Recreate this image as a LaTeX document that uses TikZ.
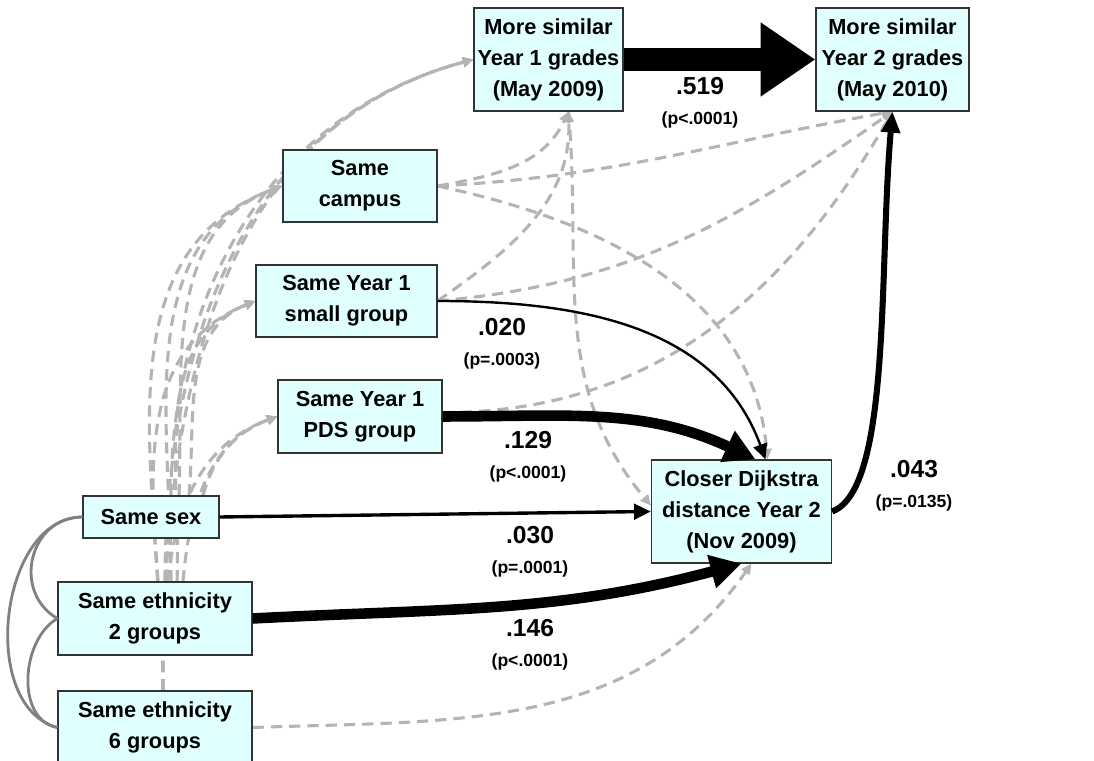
\documentclass[tikz,border=0pt]{standalone}
\usepackage{fontspec}
\setmainfont{Liberation Sans}
\usetikzlibrary{arrows.meta,backgrounds}

\definecolor{boxfill}{RGB}{224,255,255}
\definecolor{nsgray}{RGB}{180,180,180}
\definecolor{corrgray}{RGB}{128,128,128}
\newcommand{\pv}{\fontsize{12.5}{15}\selectfont}

\tikzset{
  var/.style={draw=black!80, line width=0.8pt, fill=boxfill, align=center,
    inner sep=2pt, font=\fontsize{15.5}{22}\selectfont\bfseries},
  coef/.style={align=center, font=\fontsize{17.5}{21}\selectfont\bfseries},
  mainpath/.style={line width=17pt, -{Triangle[length=39pt,width=50pt]}},
  strongpath/.style={line width=7.5pt, -{Triangle[length=22pt,width=23pt]}},
  midpath/.style={line width=4.3pt, -{Triangle[length=15pt,width=13pt]}},
  weakpath/.style={line width=2.4pt, -{Triangle[length=12pt,width=11pt]}},
  thinpath/.style={line width=1.7pt, -{Triangle[length=11pt,width=10pt]}},
  nspath/.style={draw=nsgray, line width=2.2pt, dash pattern=on 8pt off 5pt,
    -{Triangle[length=7.5pt,width=7pt]}},
  corr/.style={draw=corrgray, line width=2pt}
}

\begin{document}
\begin{tikzpicture}[x=0.025cm, y=0.025cm]
  \useasboundingbox (0,0) rectangle (1094,761);

  % outcomes
  \node[var, minimum width=3.725cm, minimum height=2.575cm] (y1) at (548.5,701.5) {More similar\\Year 1 grades\\(May 2009)};
  \node[var, minimum width=3.825cm, minimum height=2.575cm] (y2) at (892.5,701.5) {More similar\\Year 2 grades\\(May 2010)};
  \node[var, minimum width=4.5cm, minimum height=2.575cm] (dij) at (741.5,249.5) {Closer Dijkstra\\distance Year 2\\(Nov 2009)};

  % shared contexts
  \node[var, minimum width=3.85cm, minimum height=1.8cm] (campus) at (360,575) {Same\\campus};
  \node[var, minimum width=4.525cm, minimum height=1.8cm] (small) at (346.5,460) {Same Year 1\\small group};
  \node[var, minimum width=4.1cm, minimum height=1.825cm] (pds) at (360,344.5) {Same Year 1\\PDS group};

  % demographics
  \node[var, minimum width=3.4cm, minimum height=1.05cm] (sex) at (151,244) {Same sex};
  \node[var, minimum width=4.85cm, minimum height=1.825cm] (eth2) at (155,142.5) {Same ethnicity\\2 groups};
  \node[var, minimum width=4.85cm, minimum height=1.825cm] (eth6) at (155,33.5) {Same ethnicity\\6 groups};

  % non-significant paths
  \begin{scope}[on background layer]
    \path ([xshift=0.5cm]sex.north) edge[nspath, out=90, in=195] (y1.west)
          ([xshift=0.7cm]sex.north) edge[nspath, out=88, in=200] (campus.west)
          ([xshift=0.95cm]sex.north) edge[nspath, out=85, in=202] (small.west)
          ([xshift=1.3cm]sex.north) edge[nspath, out=75, in=200] (pds.west);
    \path ([xshift=0.25cm]eth2.north) edge[nspath, out=90, in=195] (y1.west)
          ([xshift=0.4cm]eth2.north) edge[nspath, out=90, in=200] (campus.west)
          ([xshift=0.55cm]eth2.north) edge[nspath, out=88, in=202] (small.west)
          ([xshift=0.7cm]eth2.north) edge[nspath, out=85, in=200] (pds.west);
    \path ([xshift=0.2cm]eth6.north) edge[nspath, out=90, in=195] (y1.west)
          ([xshift=0.2cm]eth6.north) edge[nspath, out=90, in=200] (campus.west)
          ([xshift=0.2cm]eth6.north) edge[nspath, out=90, in=202] (small.west)
          ([xshift=0.2cm]eth6.north) edge[nspath, out=90, in=200] (pds.west);

    \path (campus.east) edge[nspath, out=10, in=-115] ([xshift=0.5cm]y1.south);
    \path (small.east) edge[nspath, out=35, in=-88] ([xshift=0.5cm]y1.south);
    \path ([xshift=0.5cm]y1.south) edge[nspath, out=-85, in=130] ([yshift=0.15cm]dij.west);
    \path (campus.east) edge[nspath, out=-12, in=95] ([xshift=0.65cm]dij.north);
    \path (campus.east) edge[nspath, out=3, in=190] (y2.south);
    \path (small.east) edge[nspath, out=5, in=215] (y2.south);
    \path ([yshift=0.1cm]pds.east) edge[nspath, out=0, in=240] (y2.south);
    \path (eth6.east) edge[nspath, out=2, in=-125] ([xshift=0.25cm]dij.south);
  \end{scope}

  % correlations
  \path (sex.west) edge[corr, out=180, in=150, looseness=1.3] (eth2.west);
  \path (eth2.west) edge[corr, out=210, in=170] (eth6.west);
  \path (sex.west) edge[corr, out=180, in=165] (eth6.west);

  % significant paths
  \path (y1) edge[mainpath] (y2);
  \path (small.east) edge[thinpath, out=0, in=110] ([xshift=0.6cm]dij.north);
  \path (pds.east) edge[strongpath, out=0, in=155] ([xshift=0.35cm]dij.north);
  \path (sex.east) edge[weakpath] (dij.west);
  \path (eth2.east) edge[strongpath, out=3, in=195] (dij.south);
  \path (dij.east) edge[midpath, out=20, in=-95, out looseness=0.4] (y2.south);

  % estimates
  \node[coef] (c519) at (700,658) {.519\\\pv (p<.0001)};
  \node[coef] (c020) at (502,417) {.020\\\pv (p=.0003)};
  \node[coef] (c129) at (528,304) {.129\\\pv (p<.0001)};
  \node[coef] (c030) at (530,209) {.030\\\pv (p=.0001)};
  \node[coef] (c146) at (530,116) {.146\\\pv (p<.0001)};
  \node[coef] (c043) at (914,275) {.043\\\pv (p=.0135)};
\end{tikzpicture}
\end{document}
